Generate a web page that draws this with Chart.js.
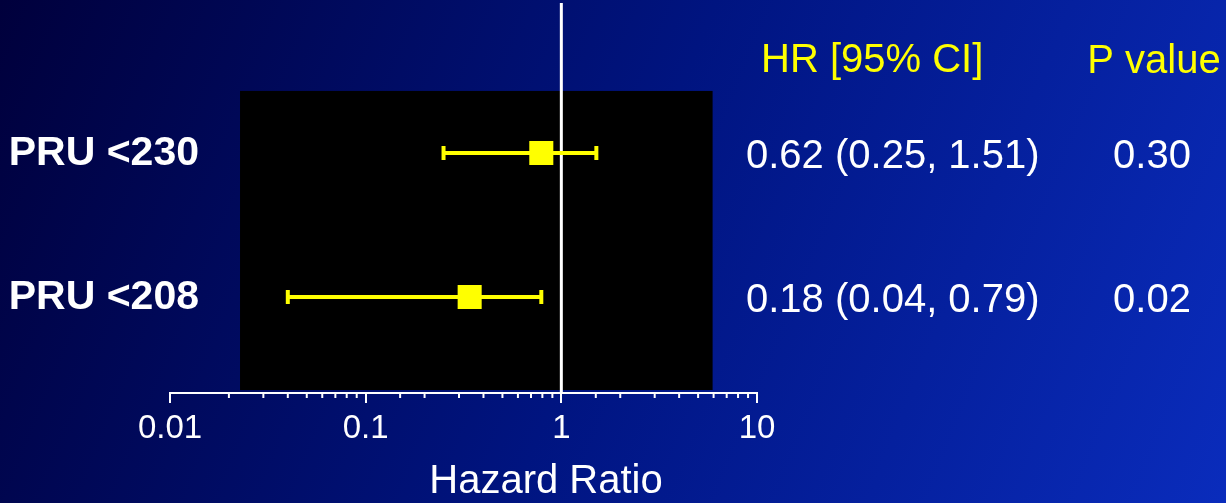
<!DOCTYPE html>
<html>
<head>
<meta charset="utf-8">
<script src="https://cdn.jsdelivr.net/npm/chart.js@4.4.1/dist/chart.umd.min.js"></script>
<style>
  html,body{margin:0;padding:0;background:#001070;overflow:hidden;}
  #wrap{width:1226px;height:503px;position:relative;}
</style>
</head>
<body>
<div id="wrap"><canvas id="c" width="1226" height="503"></canvas></div>
<script>
// ---- data ----
const rowLabels = ['PRU <230', 'PRU <208'];
const markerHR = [0.79, 0.34];      // square positions as plotted
const ciLow = [0.25, 0.04];
const ciHigh = [1.51, 0.79];
const hrText = ['0.62 (0.25, 1.51)', '0.18 (0.04, 0.79)'];
const pText = ['0.30', '0.02'];
const xTickLabels = [0.01, 0.1, 1, 10];
const headerHR = 'HR [95% CI]';
const headerP = 'P value';
const axisTitle = 'Hazard Ratio';
const refLine = 1;
const plotBox = {xMin: 0.0228, xMax: 5.93, yMin: 0.569, yMax: 2.646};

const YELLOW = '#ffff00';
const FONT = '"Liberation Sans", Arial, Helvetica, sans-serif';
const isMajor = v => xTickLabels.some(t => Math.abs(Math.log10(v) - Math.log10(t)) < 1e-6);

const datasets = [];
rowLabels.forEach((r, i) => {
  datasets.push({
    type: 'line',
    data: [{x: ciLow[i], y: i + 1}, {x: ciHigh[i], y: i + 1}],
    borderColor: YELLOW, borderWidth: 4, showLine: true,
    pointStyle: 'line', rotation: 90, pointRadius: 7, pointBorderWidth: 4,
    pointBorderColor: YELLOW, pointBackgroundColor: YELLOW, pointHoverRadius: 7,
    clip: false, order: 2
  });
});
datasets.push({
  type: 'scatter',
  data: markerHR.map((v, i) => ({x: v, y: i + 1})),
  pointStyle: 'rect', pointRadius: 17, pointBorderWidth: 0,
  backgroundColor: YELLOW, borderColor: YELLOW, pointHoverRadius: 17,
  clip: false, order: 1
});

const bgPlugin = {
  id: 'bg',
  beforeDraw(chart) {
    const {ctx, width, height} = chart;
    const g = ctx.createLinearGradient(0, 0, width, height);
    g.addColorStop(0, '#00003c');
    g.addColorStop(0.5, '#001480');
    g.addColorStop(1, '#0a2cbc');
    ctx.save(); ctx.fillStyle = g; ctx.fillRect(0, 0, width, height); ctx.restore();
  },
  beforeDatasetsDraw(chart) {
    const {ctx, scales: {x, y}, chartArea} = chart;
    ctx.save();
    const x0 = x.getPixelForValue(plotBox.xMin), x1 = x.getPixelForValue(plotBox.xMax);
    const y0 = y.getPixelForValue(plotBox.yMin), y1 = y.getPixelForValue(plotBox.yMax);
    ctx.fillStyle = '#000';
    ctx.fillRect(x0, y0, x1 - x0, y1 - y0);
    const xr = x.getPixelForValue(refLine);
    ctx.strokeStyle = '#fff'; ctx.lineWidth = 3;
    ctx.beginPath(); ctx.moveTo(xr, chartArea.top); ctx.lineTo(xr, chartArea.bottom); ctx.stroke();
    ctx.restore();
  },
  afterDraw(chart) {
    const {ctx, scales: {x, y}, chartArea} = chart;
    ctx.save();
    // minor ticks
    ctx.strokeStyle = '#fff'; ctx.lineWidth = 2;
    x.ticks.forEach(t => {
      if (isMajor(t.value)) return;
      const px = x.getPixelForValue(t.value);
      ctx.beginPath(); ctx.moveTo(px, chartArea.bottom); ctx.lineTo(px, chartArea.bottom + 5); ctx.stroke();
    });
    // axis title
    ctx.fillStyle = '#fff';
    ctx.font = '40px ' + FONT;
    ctx.textAlign = 'center'; ctx.textBaseline = 'alphabetic';
    ctx.fillText(axisTitle, 546, 493);
    // headers
    ctx.fillStyle = YELLOW;
    ctx.textAlign = 'left';
    ctx.fillText(headerHR, 761, 72);
    ctx.textAlign = 'center';
    ctx.fillText(headerP, 1154, 73);
    // row values and row labels
    rowLabels.forEach((r, i) => {
      const yc = y.getPixelForValue(i + 1);
      ctx.fillStyle = '#fff';
      ctx.font = 'bold 41px ' + FONT;
      ctx.textAlign = 'right';
      ctx.fillText(r, 199, yc + 12);
      ctx.font = '40px ' + FONT;
      ctx.textAlign = 'left';
      ctx.fillText(hrText[i], 746, yc + 15);
      ctx.textAlign = 'center';
      ctx.fillText(pText[i], 1152, yc + 15);
    });
    ctx.restore();
  }
};

new Chart(document.getElementById('c'), {
  data: {datasets},
  options: {
    responsive: false,
    animation: false,
    events: [],
    layout: {autoPadding: false, padding: {top: 3, right: 469, left: 0, bottom: 0}},
    plugins: {legend: {display: false}, tooltip: {enabled: false}},
    scales: {
      x: {
        type: 'logarithmic', min: 0.01, max: 10,
        afterFit: s => { s.height = 110; },
        grid: {
          drawOnChartArea: false, tickLength: 10, lineWidth: 2,
          color: c => (c.tick && isMajor(c.tick.value)) ? '#fff' : 'rgba(0,0,0,0)'
        },
        border: {display: true, color: '#fff', width: 2},
        ticks: {
          autoSkip: false, maxRotation: 0, padding: 6,
          color: '#fff', font: {family: FONT, size: 33},
          callback: v => isMajor(v) ? String(xTickLabels.find(t => Math.abs(Math.log10(v) - Math.log10(t)) < 1e-6)) : ''
        }
      },
      y: {
        type: 'linear', reverse: true, min: -0.0417, max: 2.6667,
        afterFit: s => { s.width = 170; },
        grid: {display: false},
        border: {display: false},
        ticks: {display: false}
      }
    }
  },
  plugins: [bgPlugin]
});
</script>
</body>
</html>
